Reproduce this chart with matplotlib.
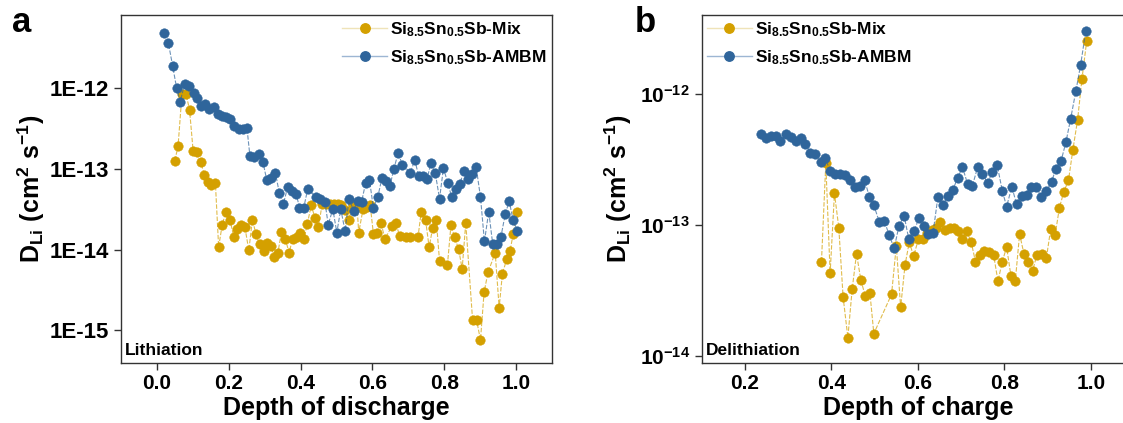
import matplotlib
matplotlib.use('Agg')
import matplotlib.pyplot as plt
from matplotlib.lines import Line2D
from matplotlib.ticker import FixedLocator, FixedFormatter, NullLocator
import numpy as np

plt.rcParams['font.family'] = ['Liberation Sans', 'DejaVu Sans']
plt.rcParams['font.weight'] = 'bold'
plt.rcParams['mathtext.fontset'] = 'custom'
plt.rcParams['mathtext.rm'] = 'Liberation Sans:bold'
plt.rcParams['mathtext.bf'] = 'Liberation Sans:bold'
plt.rcParams['mathtext.it'] = 'Liberation Sans:bold'

GOLD = '#D4A000'
BLUE = '#2F659B'

# ---- panel a: lithiation (x = depth of discharge, y = log10 D) ----
a_blue_x = [0.021, 0.032, 0.044, 0.055, 0.065, 0.077, 0.090, 0.102, 0.113, 0.124,
            0.135, 0.146, 0.158, 0.169, 0.180, 0.192, 0.204, 0.216, 0.228, 0.239,
            0.251, 0.259, 0.271, 0.283, 0.295, 0.306, 0.319, 0.330, 0.341, 0.352,
            0.364, 0.375, 0.388, 0.397, 0.409, 0.420, 0.443, 0.455, 0.468, 0.477,
            0.490, 0.501, 0.512, 0.524, 0.535, 0.548, 0.559, 0.570, 0.581, 0.592,
            0.603, 0.615, 0.627, 0.638, 0.649, 0.660, 0.672, 0.683, 0.706, 0.718,
            0.729, 0.741, 0.752, 0.763, 0.775, 0.787, 0.798, 0.810, 0.821, 0.832,
            0.843, 0.855, 0.866, 0.878, 0.889, 0.901, 0.912, 0.924, 0.935, 0.946,
            0.958, 0.970, 0.981, 0.992, 1.004]
a_blue_logD = [-11.32, -11.44, -11.73, -12.00, -12.17, -11.95, -11.98, -12.06, -12.12, -12.22,
               -12.20, -12.26, -12.23, -12.32, -12.35, -12.36, -12.39, -12.47, -12.51, -12.51,
               -12.50, -12.84, -12.85, -12.82, -12.91, -13.14, -13.12, -13.05, -13.30, -13.44,
               -13.23, -13.28, -13.31, -13.48, -13.48, -13.25, -13.35, -13.38, -13.41, -13.69,
               -13.50, -13.79, -13.50, -13.77, -13.37, -13.52, -13.40, -13.41, -13.18, -13.14,
               -13.49, -13.35, -13.11, -13.15, -13.21, -13.00, -12.80, -12.95, -13.05, -12.89,
               -13.09, -13.09, -13.13, -12.93, -13.05, -13.37, -12.99, -13.18, -13.35, -13.25,
               -13.19, -13.03, -13.13, -13.06, -12.98, -13.35, -13.90, -13.53, -13.93, -13.93,
               -13.84, -13.56, -13.40, -13.64, -13.77]

a_mix_x = [0.050, 0.059, 0.070, 0.081, 0.091, 0.101, 0.112, 0.122, 0.132, 0.142,
           0.152, 0.163, 0.172, 0.182, 0.192, 0.204, 0.214, 0.224, 0.234, 0.245,
           0.256, 0.266, 0.276, 0.286, 0.297, 0.307, 0.317, 0.327, 0.337, 0.347,
           0.358, 0.368, 0.378, 0.389, 0.399, 0.409, 0.419, 0.430, 0.440, 0.450,
           0.460, 0.471, 0.481, 0.492, 0.503, 0.514, 0.525, 0.534, 0.546, 0.557,
           0.562, 0.574, 0.585, 0.594, 0.603, 0.613, 0.624, 0.635, 0.654, 0.665,
           0.676, 0.695, 0.706, 0.727, 0.736, 0.748, 0.758, 0.768, 0.778, 0.787,
           0.809, 0.819, 0.829, 0.840, 0.850, 0.860, 0.879, 0.890, 0.901, 0.911,
           0.922, 0.942, 0.953, 0.962, 0.974, 0.983, 0.992, 1.003]
a_mix_logD = [-12.90, -12.72, -12.07, -12.07, -12.27, -12.78, -12.79, -12.91, -13.08, -13.16,
              -13.20, -13.18, -13.97, -13.69, -13.54, -13.64, -13.84, -13.75, -13.70, -13.72,
              -14.01, -13.63, -13.81, -13.93, -14.02, -13.92, -13.95, -14.09, -14.04, -13.78,
              -13.87, -14.04, -13.87, -13.85, -13.80, -13.87, -13.68, -13.45, -13.61, -13.72,
              -13.44, -13.43, -13.43, -13.44, -13.43, -13.45, -13.51, -13.63, -13.45, -13.44,
              -13.79, -13.50, -13.47, -13.45, -13.81, -13.80, -13.67, -13.87, -13.71, -13.67,
              -13.83, -13.85, -13.84, -13.85, -13.53, -13.63, -13.97, -13.73, -13.64, -14.14,
              -14.19, -13.69, -13.85, -13.99, -14.24, -13.67, -14.87, -14.87, -15.12, -14.53,
              -14.28, -14.04, -14.72, -14.30, -14.12, -14.02, -13.81, -13.54]

# ---- panel b: delithiation (x = depth of charge, y = log10 D) ----
b_blue_x = [0.237, 0.249, 0.261, 0.272, 0.282, 0.295, 0.306, 0.318, 0.329, 0.340,
            0.351, 0.363, 0.375, 0.386, 0.397, 0.408, 0.420, 0.431, 0.442, 0.454,
            0.465, 0.477, 0.488, 0.498, 0.511, 0.522, 0.534, 0.545, 0.556, 0.568,
            0.579, 0.591, 0.602, 0.613, 0.624, 0.635, 0.646, 0.658, 0.669, 0.681,
            0.692, 0.703, 0.715, 0.726, 0.738, 0.749, 0.761, 0.772, 0.783, 0.795,
            0.805, 0.817, 0.828, 0.840, 0.851, 0.862, 0.874, 0.885, 0.897, 0.909,
            0.919, 0.931, 0.942, 0.953, 0.965, 0.976, 0.988]
b_blue_logD = [-12.31, -12.34, -12.32, -12.32, -12.36, -12.31, -12.33, -12.36, -12.34, -12.38,
               -12.45, -12.46, -12.52, -12.49, -12.59, -12.61, -12.61, -12.62, -12.66, -12.71,
               -12.70, -12.66, -12.79, -12.85, -12.98, -12.97, -13.08, -13.18, -13.01, -12.93,
               -13.11, -13.05, -12.95, -13.01, -13.07, -13.06, -12.79, -12.85, -12.78, -12.73,
               -12.64, -12.56, -12.69, -12.70, -12.56, -12.61, -12.68, -12.60, -12.54, -12.74,
               -12.86, -12.71, -12.84, -12.78, -12.77, -12.71, -12.71, -12.79, -12.74, -12.67,
               -12.57, -12.51, -12.37, -12.19, -11.98, -11.78, -11.52]

b_mix_x = [0.377, 0.387, 0.397, 0.407, 0.417, 0.427, 0.438, 0.448, 0.458, 0.468,
           0.478, 0.489, 0.498, 0.539, 0.550, 0.560, 0.570, 0.580, 0.590, 0.601,
           0.612, 0.622, 0.632, 0.642, 0.652, 0.662, 0.673, 0.683, 0.693, 0.703,
           0.713, 0.723, 0.733, 0.743, 0.753, 0.764, 0.775, 0.785, 0.795, 0.805,
           0.815, 0.825, 0.835, 0.845, 0.855, 0.865, 0.875, 0.887, 0.897, 0.907,
           0.917, 0.927, 0.937, 0.948, 0.958, 0.969, 0.979, 0.990]
b_mix_logD = [-13.28, -12.53, -13.37, -12.76, -13.02, -13.55, -13.86, -13.49, -13.22, -13.42,
              -13.54, -13.52, -13.83, -13.53, -13.16, -13.63, -13.31, -13.13, -13.24, -13.11,
              -13.11, -13.06, -13.04, -13.02, -12.98, -13.04, -13.02, -13.02, -13.05, -13.11,
              -13.05, -13.13, -13.28, -13.23, -13.20, -13.21, -13.23, -13.43, -13.28, -13.17,
              -13.39, -13.43, -13.07, -13.22, -13.28, -13.35, -13.23, -13.22, -13.25, -13.03,
              -13.08, -12.87, -12.75, -12.66, -12.43, -12.20, -11.89, -11.60]

mix_label = r'$\mathbf{Si_{8.5}Sn_{0.5}Sb}$-Mix'
ambm_label = r'$\mathbf{Si_{8.5}Sn_{0.5}Sb}$-AMBM'
ylabel = r'$\mathbf{D_{Li}\ (cm^2\ s^{-1})}$'
MS = 6.8


def _draw(ax, x, logD, color, z):
    d = 10.0 ** np.array(logD)
    ax.plot(x, d, linestyle=(0, (4, 1.5)), linewidth=0.8, color=color, alpha=0.7, zorder=z)
    ax.plot(x, d, linestyle='none', marker='o', markersize=MS, color=color,
            markeredgecolor=color, markeredgewidth=0.4, zorder=z + 0.5)


def _style(ax, ysize):
    for s in ax.spines.values():
        s.set_color('#333333')
        s.set_linewidth(1.0)
    ax.tick_params(axis='both', direction='out', length=5, width=1, color='#333333',
                   labelsize=15, top=False, right=False)
    ax.tick_params(axis='y', labelsize=ysize)
    ax.yaxis.set_minor_locator(NullLocator())
    for lab in ax.get_xticklabels() + ax.get_yticklabels():
        lab.set_fontweight('bold')


def _legend(ax, x0):
    handles = [Line2D([], [], color='#EFE3B8', lw=1.0, marker='o', ms=MS,
                      markerfacecolor=GOLD, markeredgecolor=GOLD),
               Line2D([], [], color='#9DB6D3', lw=1.0, marker='o', ms=MS,
                      markerfacecolor=BLUE, markeredgecolor=BLUE)]
    ax.legend(handles, [mix_label, ambm_label], loc='upper left', bbox_to_anchor=(x0, 0.985),
              frameon=False, borderpad=0, borderaxespad=0, handlelength=2.6,
              handletextpad=0.15, labelspacing=0.55, prop={'size': 12.5, 'weight': 'bold'})


fig = plt.figure(figsize=(11.23, 4.23), dpi=100)
ax_a = fig.add_axes([0.1077, 0.143, 0.3838, 0.8215])
ax_b = fig.add_axes([0.6248, 0.143, 0.3852, 0.8215])

# panel a
_draw(ax_a, a_mix_x, a_mix_logD, GOLD, 2)
_draw(ax_a, a_blue_x, a_blue_logD, BLUE, 3)
ax_a.set_yscale('log')
ax_a.set_xlim(-0.1, 1.1)
ax_a.set_ylim(4.0e-16, 8.0e-12)
ax_a.set_xticks([0.0, 0.2, 0.4, 0.6, 0.8, 1.0])
ax_a.set_xticklabels(['0.0', '0.2', '0.4', '0.6', '0.8', '1.0'])
ax_a.yaxis.set_major_locator(FixedLocator([1e-15, 1e-14, 1e-13, 1e-12]))
ax_a.yaxis.set_major_formatter(FixedFormatter(['1E-15', '1E-14', '1E-13', '1E-12']))
_style(ax_a, 16)
ax_a.set_xlabel('Depth of discharge', fontsize=18, fontweight='bold', labelpad=2)
ax_a.set_ylabel(ylabel, fontsize=18, labelpad=2)
ax_a.text(0.01, 0.012, 'Lithiation', transform=ax_a.transAxes, fontsize=12.5,
          fontweight='bold', ha='left', va='bottom')
_legend(ax_a, 0.513)

# panel b
_draw(ax_b, b_mix_x, b_mix_logD, GOLD, 2)
_draw(ax_b, b_blue_x, b_blue_logD, BLUE, 3)
ax_b.set_yscale('log')
ax_b.set_xlim(0.1, 1.1)
ax_b.set_ylim(8.9e-15, 4.0e-12)
ax_b.set_xticks([0.2, 0.4, 0.6, 0.8, 1.0])
ax_b.set_xticklabels(['0.2', '0.4', '0.6', '0.8', '1.0'])
ax_b.yaxis.set_major_locator(FixedLocator([1e-14, 1e-13, 1e-12]))
ax_b.yaxis.set_major_formatter(FixedFormatter([r'$\mathbf{10^{-14}}$', r'$\mathbf{10^{-13}}$',
                                               r'$\mathbf{10^{-12}}$']))
_style(ax_b, 15)
ax_b.set_xlabel('Depth of charge', fontsize=18, fontweight='bold', labelpad=2)
ax_b.set_ylabel(ylabel, fontsize=18, labelpad=4)
ax_b.text(0.01, 0.012, 'Delithiation', transform=ax_b.transAxes, fontsize=12.5,
          fontweight='bold', ha='left', va='bottom')
_legend(ax_b, 0.012)

fig.text(0.011, 0.925, 'a', fontsize=25, fontweight='bold')
fig.text(0.565, 0.925, 'b', fontsize=25, fontweight='bold')

fig.savefig('out.png', dpi=100)
